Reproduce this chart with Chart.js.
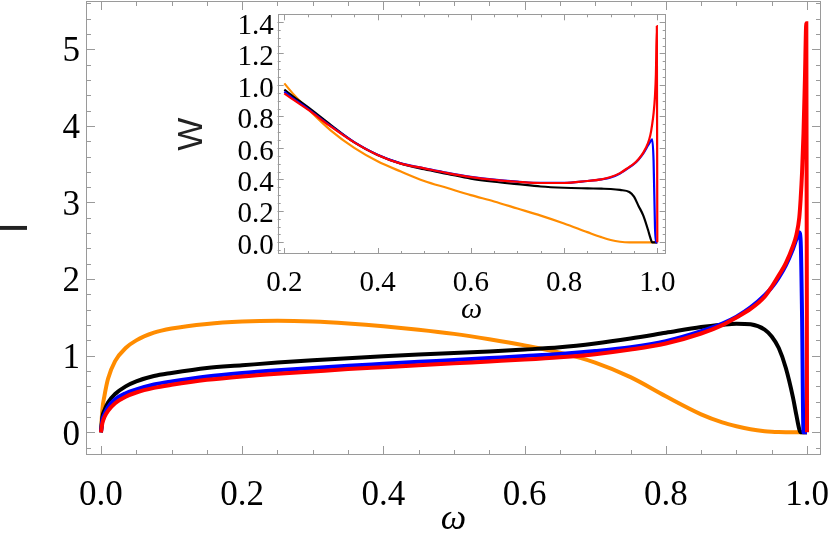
<!DOCTYPE html>
<html>
<head>
<meta charset="utf-8">
<script src="https://cdn.jsdelivr.net/npm/chart.js@4.4.1/dist/chart.umd.min.js"></script>
<style>
  html, body { margin: 0; padding: 0; background: #fff; }
  #wrap { position: relative; width: 830px; height: 534px; overflow: hidden; }
  #mainChart { position: absolute; left: 0; top: 0; }
  #insetChart { position: absolute; left: 160px; top: 8px; }
</style>
</head>
<body>
<div id="wrap">
  <canvas id="mainChart" width="830" height="534"></canvas>
  <canvas id="insetChart" width="520" height="314"></canvas>
</div>
<script>
// ================= MAIN PLOT DATA (I vs omega) =================
const mainOmega = [0, 0.002, 0.005, 0.01, 0.02, 0.035, 0.05, 0.075, 0.1, 0.15,
  0.2, 0.25, 0.3, 0.35, 0.4, 0.45, 0.5, 0.55, 0.6, 0.65,
  0.7, 0.75, 0.8, 0.85, 0.88, 0.9, 0.92, 0.94, 0.95, 0.96,
  0.97, 0.98, 0.985, 0.989, 0.991, 0.993, 0.995, 0.997, 0.999, 1.0];

const mainOrange = [0, 0.30, 0.48, 0.70, 0.93, 1.10, 1.20, 1.30, 1.355, 1.415,
  1.445, 1.455, 1.445, 1.42, 1.385, 1.34, 1.285, 1.215, 1.135, 1.04,
  0.91, 0.72, 0.47, 0.235, 0.13, 0.08, 0.04, 0.015, 0.008, 0.004,
  0.002, 0.001, 0, 0, 0, 0, 0, 0, 0, 0];

const mainBlack = [0, 0.20, 0.29, 0.39, 0.50, 0.60, 0.665, 0.735, 0.775, 0.84,
  0.875, 0.91, 0.94, 0.968, 0.993, 1.015, 1.035, 1.055, 1.08, 1.11,
  1.16, 1.225, 1.30, 1.375, 1.405, 1.418, 1.41, 1.34, 1.25, 1.10,
  0.84, 0.46, 0.22, 0.04, 0, 0, 0, 0, 0, 0];

const mainBlue = [0, 0.16, 0.24, 0.33, 0.43, 0.51, 0.56, 0.625, 0.665, 0.73,
  0.775, 0.81, 0.84, 0.87, 0.895, 0.92, 0.945, 0.97, 0.995, 1.022,
  1.06, 1.11, 1.19, 1.32, 1.42, 1.51, 1.63, 1.79, 1.89, 2.02,
  2.18, 2.39, 2.52, 2.61, 2.50, 1.50, 0, 0, 0, 0];

const mainRed = [0, 0.12, 0.20, 0.28, 0.38, 0.465, 0.52, 0.58, 0.62, 0.685,
  0.73, 0.765, 0.795, 0.825, 0.85, 0.875, 0.90, 0.925, 0.95, 0.98,
  1.02, 1.08, 1.16, 1.29, 1.40, 1.50, 1.61, 1.77, 1.90, 2.05,
  2.21, 2.43, 2.58, 2.80, 3.05, 3.40, 3.90, 4.60, 5.34, 0];

const mainXTicks = [0, 0.2, 0.4, 0.6, 0.8, 1.0];
const mainYTicks = [0, 1, 2, 3, 4, 5];


// ================= INSET DATA (W vs omega) =================
const insetOmega = [0.2, 0.22, 0.25, 0.3, 0.35, 0.4, 0.45, 0.5, 0.55, 0.6,
  0.65, 0.7, 0.75, 0.8, 0.85, 0.88, 0.9, 0.92, 0.94, 0.95,
  0.96, 0.97, 0.98, 0.985, 0.989, 0.992, 0.995, 0.997, 0.999, 1.0];

const insetOrange = [1.01, 0.94, 0.85, 0.71, 0.60, 0.515, 0.45, 0.39, 0.345, 0.30,
  0.26, 0.215, 0.17, 0.12, 0.065, 0.033, 0.015, 0.004, 0, 0,
  0, 0, 0, 0, 0, 0, 0, 0, 0, 0];

const insetBlack = [0.97, 0.925, 0.86, 0.745, 0.635, 0.555, 0.50, 0.465, 0.435, 0.405,
  0.385, 0.37, 0.355, 0.347, 0.343, 0.341, 0.339, 0.333, 0.32, 0.29,
  0.23, 0.17, 0.08, 0.03, 0, 0, 0, 0, 0, 0];

const insetBlue = [0.957, 0.912, 0.85, 0.738, 0.637, 0.557, 0.502, 0.471, 0.441, 0.416,
  0.398, 0.386, 0.378, 0.378, 0.39, 0.40, 0.412, 0.438, 0.476, 0.498,
  0.527, 0.565, 0.615, 0.64, 0.655, 0.52, 0.1, 0, 0, 0];

const insetRed = [0.947, 0.905, 0.845, 0.735, 0.635, 0.555, 0.50, 0.47, 0.44, 0.415,
  0.397, 0.385, 0.377, 0.377, 0.39, 0.40, 0.415, 0.44, 0.48, 0.50,
  0.53, 0.57, 0.63, 0.68, 0.75, 0.82, 0.93, 1.07, 1.374, 0];

const insetXTicks = [0.2, 0.4, 0.6, 0.8, 1.0];
const insetYTicks = [0, 0.2, 0.4, 0.6, 0.8, 1.0, 1.2, 1.4];


// ================= STYLE =================
const SERIF = "'Liberation Serif', 'DejaVu Serif', serif";
const SANS = "'Liberation Sans', Arial, sans-serif";
const FRAME = "#9a9a9a";


// ================= FRAME + TICKS PLUGIN =================
// Mathematica style: frame on all four sides, ticks pointing inward
function minorValues(scale, step) {
  const out = [];
  for (let v = Math.ceil(scale.min / step - 1e-9) * step; v <= scale.max + 1e-9; v += step) {
    out.push(+v.toFixed(4));
  }
  return out;
}

const frameTicks = {
  id: "frameTicks",
  beforeDatasetsDraw(chart, args, opts) {
    const { ctx, chartArea: a, scales: { x, y } } = chart;
    ctx.save();
    ctx.strokeStyle = opts.color;
    ctx.lineWidth = 1;
    ctx.beginPath();

    const mark = (vals, scale, len) => {
      vals.forEach(v => {
        const p = Math.round(scale.getPixelForValue(v)) + 0.5;
        if (scale.isHorizontal()) {
          if (p < a.left || p > a.right) return;
          ctx.moveTo(p, a.bottom); ctx.lineTo(p, a.bottom - len);
          ctx.moveTo(p, a.top); ctx.lineTo(p, a.top + len);
        } else {
          if (p < a.top || p > a.bottom) return;
          ctx.moveTo(a.left, p); ctx.lineTo(a.left + len, p);
          ctx.moveTo(a.right, p); ctx.lineTo(a.right - len, p);
        }
      });
    };

    mark(minorValues(x, opts.xMinor), x, opts.minorLen);
    mark(minorValues(y, opts.yMinor), y, opts.minorLen);
    mark(x.ticks.map(t => t.value), x, opts.majorLen);
    mark(y.ticks.map(t => t.value), y, opts.majorLen);
    ctx.stroke();

    ctx.strokeRect(Math.round(a.left) + 0.5, Math.round(a.top) + 0.5,
      Math.round(a.right - a.left) - 1, Math.round(a.bottom - a.top) - 1);
    ctx.restore();
  }
};


// ================= HELPERS =================
function series(label, xs, ys, color, width) {
  return {
    label,
    data: xs.map((w, i) => ({ x: w, y: ys[i] })),
    borderColor: color,
    borderWidth: width,
    pointRadius: 0,
    fill: false,
    cubicInterpolationMode: "monotone"
  };
}

function fixedTicks(values) {
  return scale => { scale.ticks = values.map(v => ({ value: v })); };
}

function fixedBox(prop, size) {
  return scale => {
    scale[prop] = size;
    scale.paddingTop = 0; scale.paddingBottom = 0;
    scale.paddingLeft = 0; scale.paddingRight = 0;
  };
}


// ================= MAIN CHART =================
new Chart(document.getElementById("mainChart"), {
  type: "line",
  data: {
    datasets: [
      series("red", mainOmega, mainRed, "#ff0000", 4),
      series("blue", mainOmega, mainBlue, "#0000ff", 4),
      series("black", mainOmega, mainBlack, "#000000", 4),
      series("orange", mainOmega, mainOrange, "#ff8c00", 4)
    ]
  },
  options: {
    responsive: false,
    animation: false,
    devicePixelRatio: 1,
    layout: { padding: { top: 1, right: 9, left: 0, bottom: 0 } },
    plugins: {
      legend: { display: false },
      tooltip: { enabled: false },
      frameTicks: { color: FRAME, xMinor: 0.05, yMinor: 0.2, majorLen: 9, minorLen: 5 }
    },
    scales: {
      x: {
        type: "linear",
        min: -0.0212,
        max: 1.0198,
        afterBuildTicks: fixedTicks(mainXTicks),
        afterFit: fixedBox("height", 79),
        grid: { display: false, drawTicks: false },
        border: { display: false },
        ticks: {
          padding: 20, color: "#000", autoSkip: false, maxRotation: 0,
          font: { family: SERIF, size: 35 },
          callback: v => v.toFixed(1)
        },
        title: {
          display: true, text: "ω", color: "#000",
          font: { family: SERIF, size: 36, style: "italic", lineHeight: 1 },
          padding: { top: 0, bottom: -4 }
        }
      },
      y: {
        type: "linear",
        min: -0.296,
        max: 5.63,
        afterBuildTicks: fixedTicks(mainYTicks),
        afterFit: fixedBox("width", 86),
        grid: { display: false, drawTicks: false },
        border: { display: false },
        ticks: {
          padding: 6, labelOffset: 3, color: "#000", autoSkip: false,
          font: { family: SERIF, size: 35 },
          callback: v => String(v)
        },
        title: {
          display: true, text: "I", color: "#222",
          font: { family: SANS, size: 42, lineHeight: 0.72 },
          padding: 0
        }
      }
    }
  },
  plugins: [frameTicks]
});


// ================= INSET CHART =================
new Chart(document.getElementById("insetChart"), {
  type: "line",
  data: {
    datasets: [
      series("red", insetOmega, insetRed, "#ff0000", 2.2),
      series("blue", insetOmega, insetBlue, "#0000ff", 2.2),
      series("black", insetOmega, insetBlack, "#000000", 2.2),
      series("orange", insetOmega, insetOrange, "#ff8c00", 2.2)
    ]
  },
  options: {
    responsive: false,
    animation: false,
    devicePixelRatio: 1,
    layout: { padding: { top: 6.3, right: 14.3, left: 0, bottom: 0 } },
    plugins: {
      legend: { display: false },
      tooltip: { enabled: false },
      frameTicks: { color: FRAME, xMinor: 0.05, yMinor: 0.05, majorLen: 6, minorLen: 3 }
    },
    scales: {
      x: {
        type: "linear",
        min: 0.1858,
        max: 1.018,
        afterBuildTicks: fixedTicks(insetXTicks),
        afterFit: fixedBox("height", 68),
        grid: { display: false, drawTicks: false },
        border: { display: false },
        ticks: {
          padding: 12, color: "#000", autoSkip: false, maxRotation: 0,
          font: { family: SERIF, size: 29 },
          callback: v => v.toFixed(1)
        },
        title: {
          display: true, text: "ω", color: "#000",
          font: { family: SERIF, size: 30, style: "italic", lineHeight: 1 },
          padding: { top: 0, bottom: -3 }
        }
      },
      y: {
        type: "linear",
        min: -0.074,
        max: 1.449,
        afterBuildTicks: fixedTicks(insetYTicks),
        afterFit: fixedBox("width", 117.7),
        grid: { display: false, drawTicks: false },
        border: { display: false },
        ticks: {
          padding: 4, labelOffset: 4, color: "#000", autoSkip: false,
          font: { family: SERIF, size: 29 },
          callback: v => v.toFixed(1)
        },
        title: {
          display: true, text: "W", color: "#222",
          font: { family: SANS, size: 35, lineHeight: 1 },
          padding: { top: 15, bottom: 0 }
        }
      }
    }
  },
  plugins: [frameTicks]
});
</script>
</body>
</html>
